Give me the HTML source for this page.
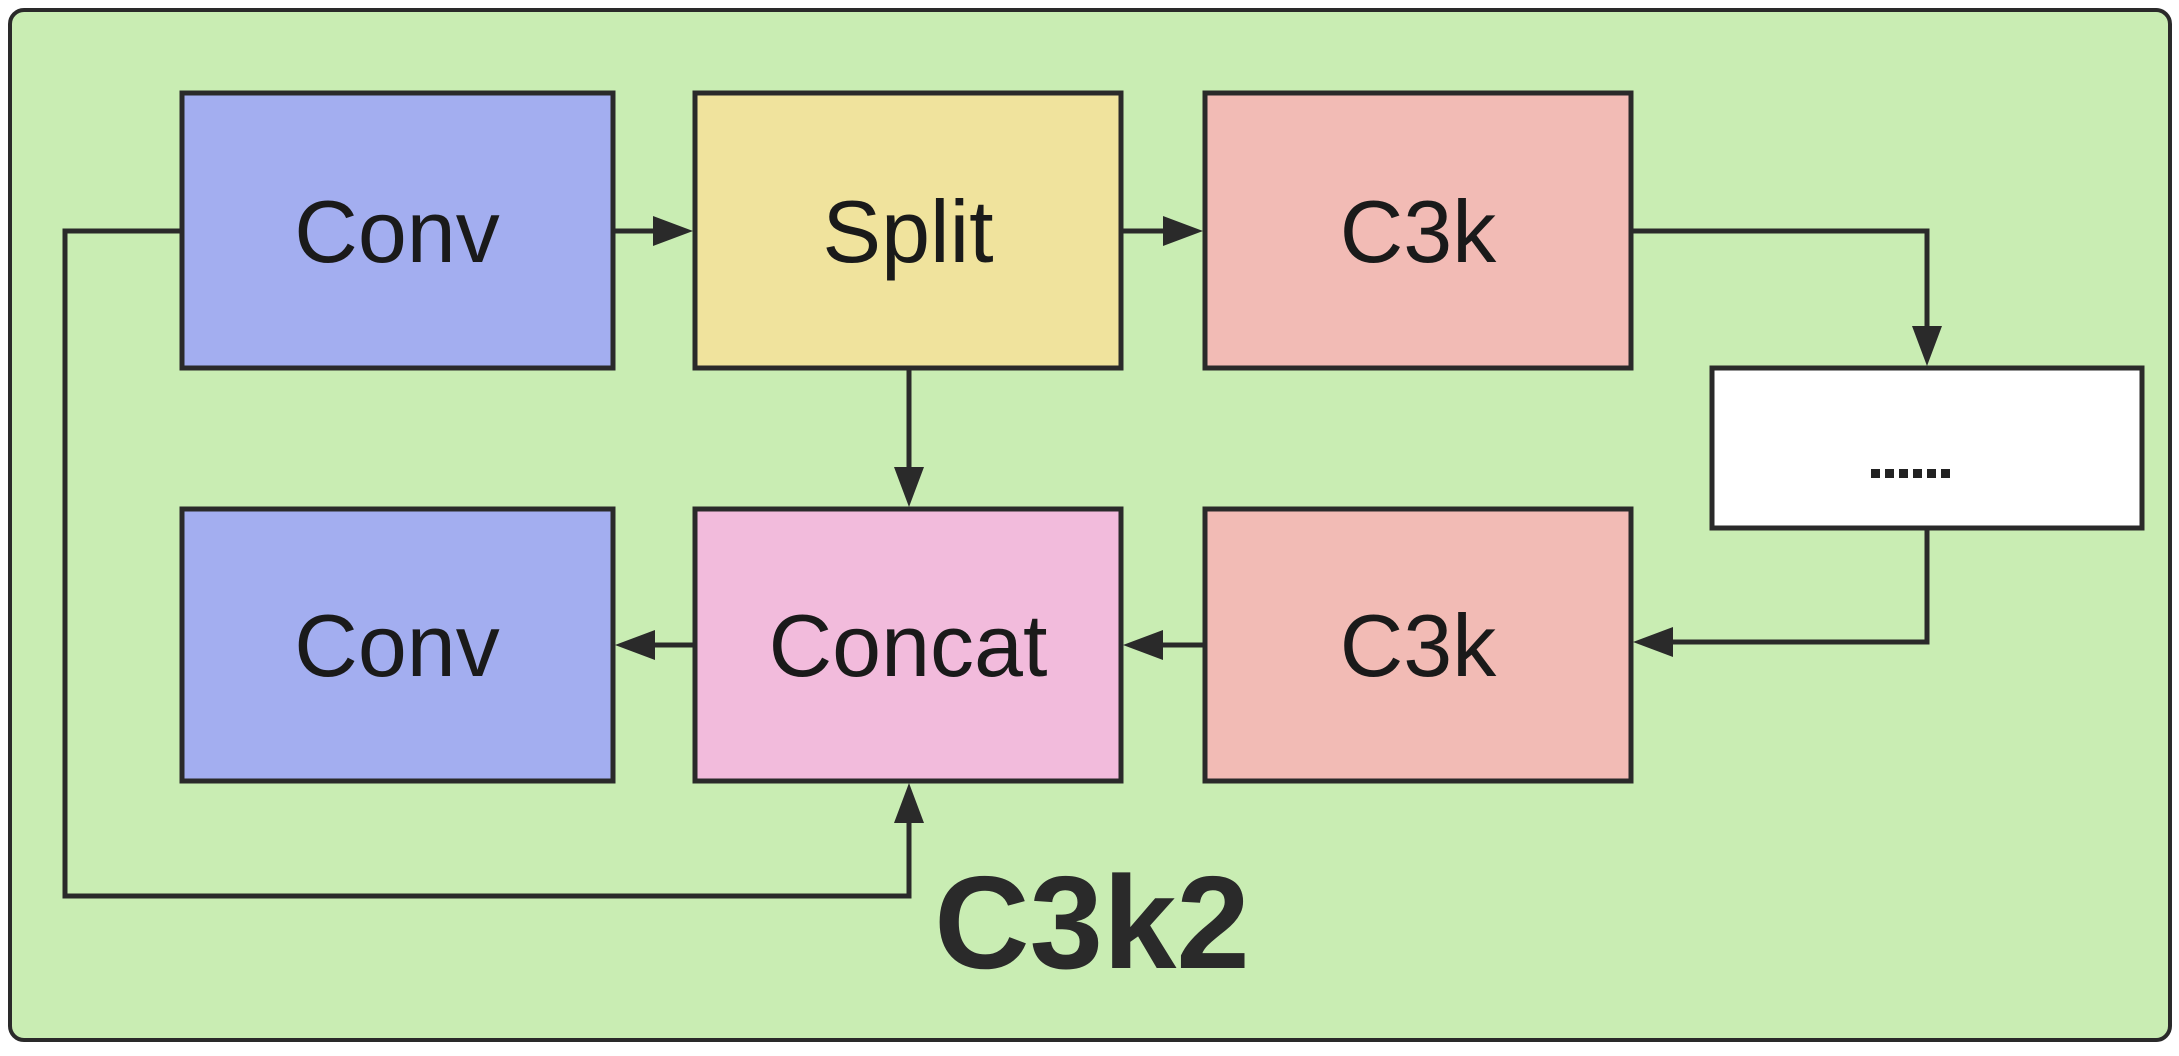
<!DOCTYPE html>
<html><head><style>
html,body{margin:0;padding:0;background:#fff;}
svg{display:block;}
text{font-family:"Liberation Sans",sans-serif;}
</style></head><body>
<svg width="2179" height="1056" viewBox="0 0 2179 1056" xmlns="http://www.w3.org/2000/svg">
<rect x="10" y="10" width="2160" height="1030" rx="14" fill="#c9edb3" stroke="#2a2a2a" stroke-width="4"/>
<g stroke="#2a2a2a" stroke-width="5">
<rect x="182" y="93" width="431" height="275" fill="#a3aef0"/>
<rect x="695" y="93" width="426" height="275" fill="#f0e39d"/>
<rect x="1205" y="93" width="426" height="275" fill="#f2bbb5"/>
<rect x="1712" y="368" width="430" height="160" fill="#ffffff"/>
<rect x="182" y="509" width="431" height="272" fill="#a3aef0"/>
<rect x="695" y="509" width="426" height="272" fill="#f2bbdc"/>
<rect x="1205" y="509" width="426" height="272" fill="#f2bbb5"/>
<g fill="none">
<polyline points="182,231 65,231 65,896 909,896 909,810"/>
<line x1="613" y1="231" x2="665" y2="231"/>
<line x1="1121" y1="231" x2="1175" y2="231"/>
<line x1="909" y1="368" x2="909" y2="480"/>
<polyline points="1631,231 1927,231 1927,338"/>
<polyline points="1927,528 1927,642 1662,642"/>
<line x1="1205" y1="645" x2="1152" y2="645"/>
<line x1="695" y1="645" x2="643" y2="645"/>
</g>
</g>
<g fill="#2a2a2a">
<polygon points="693,231 653,216 653,246"/>
<polygon points="1203,231 1163,216 1163,246"/>
<polygon points="909,507 894,467 924,467"/>
<polygon points="909,783 894,823 924,823"/>
<polygon points="1927,366 1912,326 1942,326"/>
<polygon points="1633,642 1673,627 1673,657"/>
<polygon points="1123,645 1163,630 1163,660"/>
<polygon points="615,645 655,630 655,660"/>
</g>
<g font-size="88" fill="#1a1a1a" text-anchor="middle">
<text x="397" y="262">Conv</text>
<text x="908" y="262">Split</text>
<text x="1418" y="262">C3k</text>
<text x="397" y="676">Conv</text>
<text x="908" y="676">Concat</text>
<text x="1418" y="676">C3k</text>
</g>
<g fill="#222">
<rect x="1871" y="469" width="9" height="9"/><rect x="1885" y="469" width="9" height="9"/>
<rect x="1899" y="469" width="9" height="9"/><rect x="1913" y="469" width="9" height="9"/>
<rect x="1927" y="469" width="9" height="9"/><rect x="1941" y="469" width="9" height="9"/>
</g>
<text x="1092" y="968" font-size="132" font-weight="bold" fill="#2a2a2a" text-anchor="middle">C3k2</text>
</svg>
</body></html>
